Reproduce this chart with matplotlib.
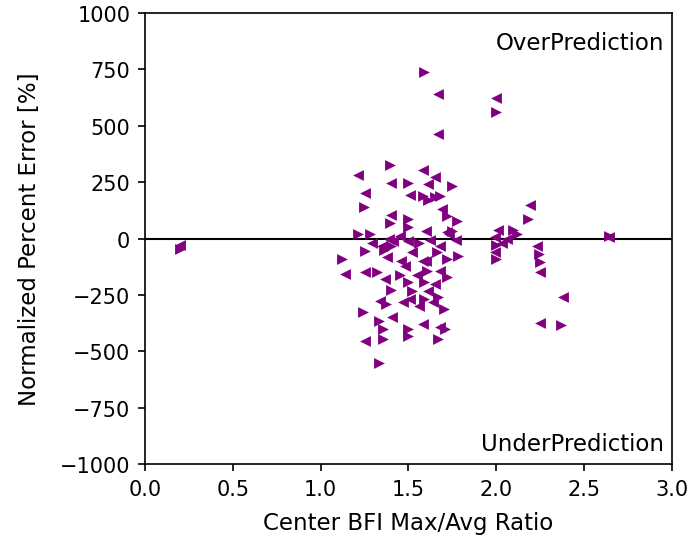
import matplotlib
matplotlib.use("Agg")
import matplotlib.pyplot as plt

# Right-pointing markers
right_x = [1.395, 1.50, 1.245, 1.395, 1.50, 1.50, 1.21, 1.28, 1.25, 1.75, 1.58, 1.68, 1.72, 1.775,
           1.75, 1.78, 1.32, 1.45, 1.50, 1.37, 1.24, 1.33, 1.355, 1.50, 1.50, 1.355, 1.33, 1.605,
           1.72, 1.59, 1.59, 1.67, 1.70, 1.71, 1.67, 2.18, 2.095, 2.12, 2.0, 2.25, 2.37, 1.59,
           2.0, 0.2, 2.64, 1.65, 1.61, 1.52, 1.40, 1.36, 1.56, 1.66, 1.72, 1.12, 2.0, 2.24, 1.40]
right_y = [328, 248, 142, 71, 89, 53, 22, 22, -53, 231, 190, 190, 102, 80,
           35, -75, -146, -160, -191, -288, -324, -364, -399, -399, -430, -443, -550, -142,
           -169, -191, -266, -257, -310, -399, -443, 89, 40, 22, -89, -102, -381, 740,
           560, -45, 10, 186, 169, -231, -35, -50, -20, -60, -90, -90, -30, -67, -230]

# Left-pointing markers
left_x = [1.21, 1.40, 1.25, 1.51, 1.40, 1.29, 1.35, 1.585, 1.65, 1.61, 1.69, 1.60, 1.73, 1.68,
          1.25, 1.365, 1.14, 1.34, 1.47, 1.405, 1.25, 1.68, 1.58, 1.68, 2.19, 2.01, 2.23, 2.25,
          2.38, 2.25, 1.67, 1.67, 2.0, 0.2, 2.64, 1.45, 1.50, 1.62, 1.52, 1.60, 1.38, 1.48,
          1.65, 1.55, 2.06, 1.99, 1.99, 1.51, 1.39, 1.41, 1.61, 1.58, 1.77, 1.72, 1.46, 1.56,
          1.64, 2.03]
left_y = [281, 248, 204, 195, 106, -18, -31, 306, 275, 240, 133, 35, 22, -31,
          -146, -177, -155, -275, -279, -346, -452, -142, -377, -390, 151, 40, -35, -146,
          -257, -372, 640, 465, 625, -30, 5, 10, -10, -5, -60, -100, -80, -120,
          -200, -160, 0, 9, -60, -266, 0, -10, -231, -100, -5, 30, -100, -300,
          -280, -20]

xticks = [0.0, 0.5, 1.0, 1.5, 2.0, 2.5, 3.0]
yticks = [-1000, -750, -500, -250, 0, 250, 500, 750, 1000]

plt.rcParams['font.family'] = ['DejaVu Sans']
plt.rcParams['font.size'] = 10
fig = plt.figure(figsize=(4.6, 3.5933), dpi=150)
ax = fig.add_axes([0.210, 0.137, 0.764, 0.837])

color = '#800080'
ax.scatter(right_x, right_y, marker='>', s=27, color=color, zorder=3, linewidths=0)
ax.scatter(left_x, left_y, marker='<', s=27, color=color, zorder=3, linewidths=0)
ax.axhline(0, color='black', linewidth=1.0, zorder=2)

ax.set_xlim(0, 3)
ax.set_ylim(-1000, 1000)
ax.set_xticks(xticks)
ax.set_yticks(yticks)
ax.set_xticklabels([f"{v:.1f}" for v in xticks])
ax.set_yticklabels([f"{v}".replace('-', '\u2212') for v in yticks])
ax.set_xlabel('Center BFI Max/Avg Ratio', fontsize=11, labelpad=6)
ax.set_ylabel('Normalized Percent Error [%]', fontsize=11, labelpad=9)
ax.text(0.985, 0.96, 'OverPrediction', transform=ax.transAxes, ha='right', va='top', fontsize=11)
ax.text(0.985, 0.02, 'UnderPrediction', transform=ax.transAxes, ha='right', va='bottom', fontsize=11)

fig.savefig('out.png', dpi=150)
